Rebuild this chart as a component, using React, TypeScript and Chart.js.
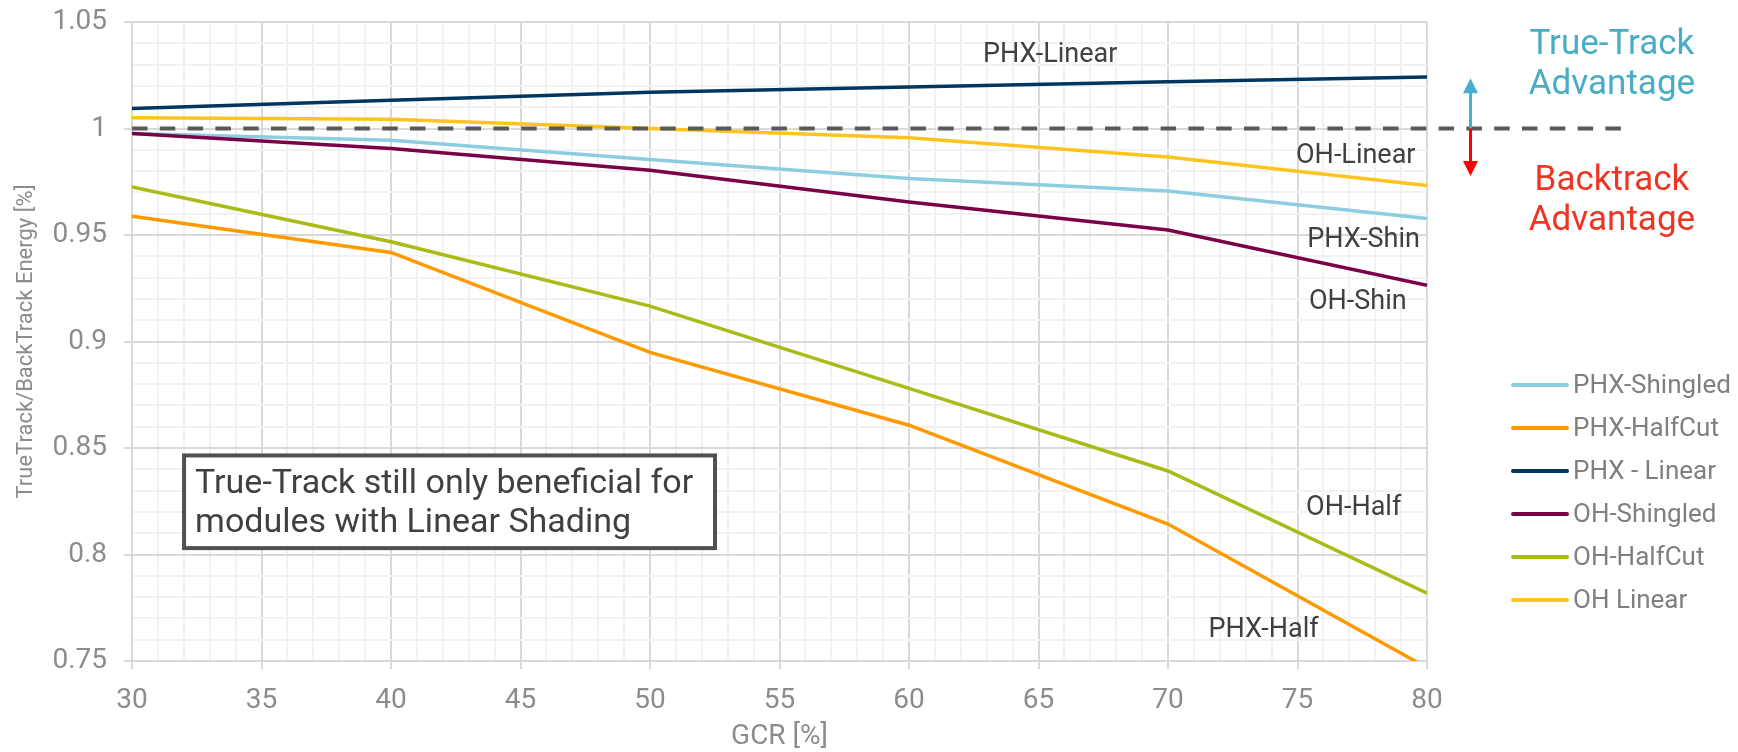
import React, { useEffect, useRef } from 'react';
import { Chart, registerables } from 'chart.js';

Chart.register(...registerables);

// ---------- data ----------
const gcr = [30, 40, 50, 60, 70, 80];
const phxShingled = [0.9976, 0.9945, 0.9854, 0.9765, 0.9707, 0.9577];
const phxHalfCut = [0.9588, 0.9418, 0.8949, 0.8607, 0.8143, 0.7469];
const phxLinear = [1.0094, 1.0133, 1.017, 1.0195, 1.022, 1.0242];
const ohShingled = [0.9976, 0.9906, 0.9804, 0.9655, 0.9523, 0.9264];
const ohHalfCut = [0.9726, 0.9468, 0.9166, 0.878, 0.8392, 0.7818];
const ohLinear = [1.005, 1.0043, 1.0, 0.9957, 0.9866, 0.9732];

const seriesNames = ['PHX-Shingled', 'PHX-HalfCut', 'PHX - Linear', 'OH-Shingled', 'OH-HalfCut', 'OH Linear'];
const seriesValues = [phxShingled, phxHalfCut, phxLinear, ohShingled, ohHalfCut, ohLinear];
const seriesColors = ['#8ccde0', '#ff9900', '#00365f', '#7a0047', '#a9bb17', '#ffc31f'];

// parity (ratio = 1) reference line, extends past the plot
const parityX = [30, 87.6];
const parityY = [1, 1];

const xMin = 30;
const xMax = 80;
const yMin = 0.75;
const yMax = 1.05;

// in-plot series labels (data coordinates, text baseline)
const inlineLabels = [
  { text: 'PHX-Linear', x: 65.45, y: 1.0312 },
  { text: 'OH-Linear', x: 77.25, y: 0.9838 },
  { text: 'PHX-Shin', x: 77.55, y: 0.9444 },
  { text: 'OH-Shin', x: 77.33, y: 0.9152 },
  { text: 'OH-Half', x: 77.17, y: 0.8185 },
  { text: 'PHX-Half', x: 73.69, y: 0.7611 },
];

// note box
const noteLines = ['True-Track still only beneficial for', 'modules with Linear Shading'];
const noteBoxX = [32.01, 52.51];
const noteBoxY = [0.8465, 0.803];

// advantage arrows and captions
const arrowX = 81.68;
const arrowUpTip = 1.0236;
const arrowDownTip = 0.9777;
const captionX = 87.14;
const trueTrackCaption = ['True-Track', 'Advantage'];
const trueTrackCaptionY = [1.0348, 1.0161];
const backtrackCaption = ['Backtrack', 'Advantage'];
const backtrackCaptionY = [0.971, 0.9522];

const FONT = 'Roboto';

const isMajorX = (v: number) => Math.round(v) % 5 === 0;
const isMajorY = (v: number) => Math.round(v * 100) % 5 === 0;

const overlayPlugin = {
  id: 'overlay',
  afterDraw(chart: any) {
    const { ctx, chartArea } = chart;
    const xs = chart.scales.x;
    const ys = chart.scales.y;
    const px = (v: number) => xs.getPixelForValue(v);
    const py = (v: number) => ys.getPixelForValue(v);
    ctx.save();

    // inline labels
    ctx.font = `27px ${FONT}`;
    ctx.fillStyle = '#404040';
    ctx.textAlign = 'center';
    ctx.textBaseline = 'alphabetic';
    inlineLabels.forEach((l) => ctx.fillText(l.text, px(l.x), py(l.y)));

    // note box
    const bx1 = px(noteBoxX[0]);
    const bx2 = px(noteBoxX[1]);
    const by1 = py(noteBoxY[0]);
    const by2 = py(noteBoxY[1]);
    ctx.fillStyle = '#ffffff';
    ctx.fillRect(bx1, by1, bx2 - bx1, by2 - by1);
    ctx.lineWidth = 4;
    ctx.strokeStyle = '#505050';
    ctx.strokeRect(bx1, by1, bx2 - bx1, by2 - by1);
    ctx.font = `34px ${FONT}`;
    ctx.fillStyle = '#404040';
    ctx.textAlign = 'left';
    noteLines.forEach((t, i) => ctx.fillText(t, bx1 + 11, by1 + 38 + i * 39));

    // arrows
    const ax = px(arrowX);
    const a0 = py(1);
    const drawArrow = (tip: number, color: string) => {
      const ty = py(tip);
      const dir = ty < a0 ? 1 : -1;
      ctx.strokeStyle = color;
      ctx.fillStyle = color;
      ctx.lineWidth = 3;
      ctx.beginPath();
      ctx.moveTo(ax, a0);
      ctx.lineTo(ax, ty + dir * 12);
      ctx.stroke();
      ctx.beginPath();
      ctx.moveTo(ax, ty);
      ctx.lineTo(ax - 7.5, ty + dir * 15);
      ctx.lineTo(ax + 7.5, ty + dir * 15);
      ctx.closePath();
      ctx.fill();
    };
    drawArrow(arrowUpTip, '#47afd0');
    drawArrow(arrowDownTip, '#ff0000');

    // captions
    ctx.font = `35px ${FONT}`;
    ctx.textAlign = 'center';
    ctx.fillStyle = '#4bacc6';
    trueTrackCaption.forEach((t, i) => ctx.fillText(t, px(captionX), py(trueTrackCaptionY[i])));
    ctx.fillStyle = '#ee3524';
    backtrackCaption.forEach((t, i) => ctx.fillText(t, px(captionX), py(backtrackCaptionY[i])));

    // legend
    const lx = chartArea.right + 86;
    const ly = 385;
    ctx.font = `26px ${FONT}`;
    ctx.textAlign = 'left';
    ctx.textBaseline = 'middle';
    chart.data.datasets.forEach((ds: any, i: number) => {
      if (ds.hideInLegend) return;
      const y = ly + i * 43;
      ctx.strokeStyle = ds.borderColor;
      ctx.lineWidth = 4;
      ctx.lineCap = 'round';
      ctx.beginPath();
      ctx.moveTo(lx, y);
      ctx.lineTo(lx + 54, y);
      ctx.stroke();
      ctx.fillStyle = '#7f7f7f';
      ctx.fillText(ds.label, lx + 60, y + 1.5);
    });

    ctx.restore();
  },
};

export default function App() {
  const ref = useRef<HTMLCanvasElement>(null);

  useEffect(() => {
    const datasets: any[] = seriesNames.map((name, i) => ({
      label: name,
      data: gcr.map((g, j) => ({ x: g, y: seriesValues[i][j] })),
      borderColor: seriesColors[i],
      backgroundColor: seriesColors[i],
      borderWidth: 3.5,
      pointRadius: 0,
      tension: 0,
      fill: false,
      order: seriesNames.length - i,
    }));
    datasets.push({
      label: 'parity',
      hideInLegend: true,
      data: parityX.map((x, j) => ({ x, y: parityY[j] })),
      borderColor: '#595959',
      borderWidth: 4,
      borderDash: [15.5, 12.3],
      pointRadius: 0,
      clip: false,
      order: 0,
    });

    const chart = new Chart(ref.current as HTMLCanvasElement, {
      type: 'line',
      data: { datasets },
      options: {
        responsive: false,
        devicePixelRatio: 1,
        animation: false,
        layout: { padding: { left: 0, right: 311, top: 22, bottom: 0 } },
        plugins: {
          legend: { display: false },
          tooltip: { enabled: false },
        },
        scales: {
          x: {
            type: 'linear',
            min: xMin,
            max: xMax,
            ticks: {
              stepSize: 1,
              autoSkip: false,
              maxRotation: 0,
              padding: 15,
              color: '#8c8c8c',
              font: { family: FONT, size: 28 },
              callback: (v: any) => (isMajorX(Number(v)) ? String(Math.round(Number(v))) : ''),
            },
            grid: {
              color: (c: any) => (c.tick && isMajorX(c.tick.value) ? '#d9d9d9' : '#f2f2f2'),
              tickColor: (c: any) => (c.tick && isMajorX(c.tick.value) ? '#d9d9d9' : 'rgba(0,0,0,0)'),
              lineWidth: 2,
              tickLength: 8,
            },
            border: { color: '#d9d9d9', width: 2 },
            title: {
              display: true,
              text: 'GCR [%]',
              color: '#8c8c8c',
              font: { family: FONT, size: 28, lineHeight: 1 },
              padding: { top: 0, bottom: 1 },
            },
            afterFit: (s: any) => {
              s.height = 91;
            },
          },
          y: {
            type: 'linear',
            min: yMin,
            max: yMax,
            ticks: {
              stepSize: 0.01,
              autoSkip: false,
              padding: 17,
              color: '#8c8c8c',
              font: { family: FONT, size: 28 },
              callback: (v: any) => (isMajorY(Number(v)) ? String(Math.round(Number(v) * 100) / 100) : ''),
            },
            grid: {
              color: (c: any) => (c.tick && isMajorY(c.tick.value) ? '#d9d9d9' : '#f2f2f2'),
              tickColor: (c: any) => (c.tick && isMajorY(c.tick.value) ? '#d9d9d9' : 'rgba(0,0,0,0)'),
              lineWidth: 2,
              tickLength: 8,
            },
            border: { color: '#d9d9d9', width: 2 },
            title: {
              display: true,
              text: 'TrueTrack/BackTrack Energy [%]',
              color: '#8c8c8c',
              font: { family: FONT, size: 22, lineHeight: 1 },
              padding: { top: 15, bottom: 0 },
            },
            afterFit: (s: any) => {
              s.width = 132;
              s.paddingTop = 0;
              s.paddingBottom = 0;
            },
          },
        },
      } as any,
      plugins: [overlayPlugin],
    });

    return () => chart.destroy();
  }, []);

  return (
    <div style={{ position: 'fixed', left: 0, top: 0, width: 1738, height: 752, background: '#ffffff' }}>
      <canvas ref={ref} width={1738} height={752} style={{ display: 'block', width: 1738, height: 752 }} />
    </div>
  );
}
